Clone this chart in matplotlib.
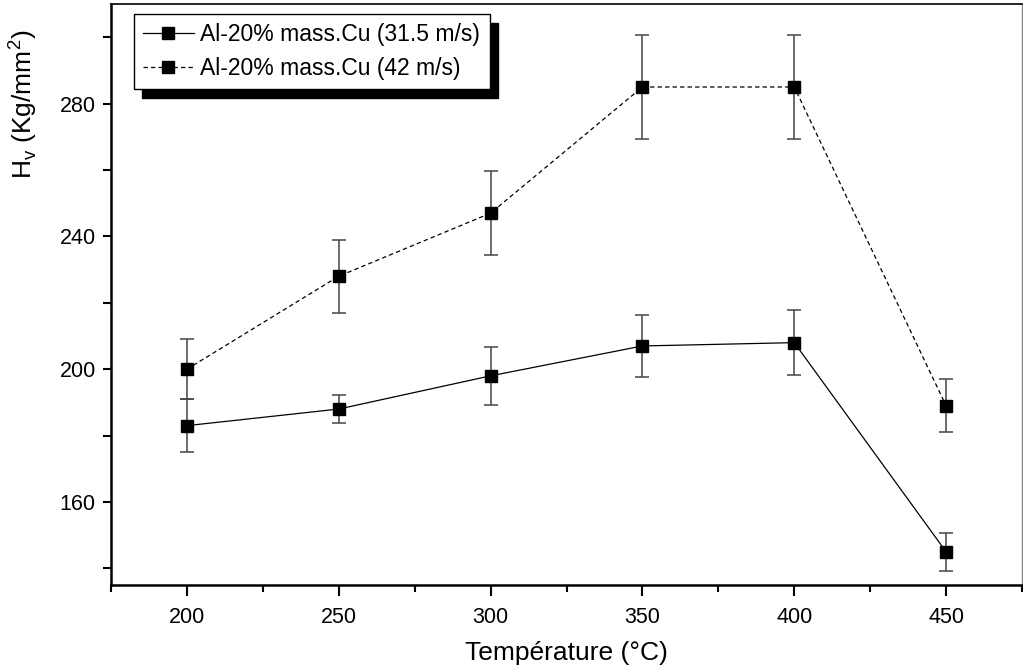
import matplotlib
matplotlib.use("Agg")
import matplotlib.pyplot as plt
from matplotlib.patches import Rectangle
from matplotlib.ticker import MultipleLocator

plt.rcParams['font.family'] = ['Liberation Sans', 'DejaVu Sans']
plt.rcParams['mathtext.fontset'] = 'custom'
plt.rcParams['mathtext.rm'] = 'Liberation Sans'

temperature = [200, 250, 300, 350, 400, 450]
hv_31 = [183, 188, 198, 207, 208, 145]
err_31 = [8, 4.3, 8.7, 9.3, 9.7, 5.7]
hv_42 = [200, 228, 247, 285, 285, 189]
err_42 = [9, 11, 12.6, 15.6, 15.6, 8]
label_31 = "Al-20% mass.Cu (31.5 m/s)"
label_42 = "Al-20% mass.Cu (42 m/s)"

fig = plt.figure(figsize=(10.23, 6.69), dpi=100)
ax = fig.add_axes([111/1023, 1-585/669, (1022-111)/1023, (585-4)/669])

ebkw = dict(fmt='none', ecolor='#444444', elinewidth=1.1, capsize=5, capthick=1.1)
ax.errorbar(temperature, hv_31, yerr=err_31, **ebkw)
ax.errorbar(temperature, hv_42, yerr=err_42, **ebkw)
ax.plot(temperature, hv_31, color='black', lw=0.9, marker='s', ms=8,
        mfc='black', mec='black', label=label_31)
ax.plot(temperature, hv_42, color='black', lw=0.9, ls=(0, (3.5, 2.5)), marker='s',
        ms=8, mfc='black', mec='black', label=label_42)

ax.set_xlim(175, 475)
ax.set_ylim(135, 310)
ax.xaxis.set_major_locator(MultipleLocator(50))
ax.xaxis.set_minor_locator(MultipleLocator(25))
ax.yaxis.set_major_locator(MultipleLocator(40))
ax.yaxis.set_minor_locator(MultipleLocator(20))
ax.tick_params(which='major', direction='out', length=8, width=1.5, labelsize=15.5,
               top=False, right=False, pad=8)
ax.tick_params(which='minor', direction='out', length=5, width=1.5, top=False, right=False)
ax.tick_params(axis='y', which='major', length=6, pad=5)
ax.tick_params(axis='y', which='minor', length=6)

for s in ['left', 'bottom']:
    ax.spines[s].set_linewidth(1.8)
ax.spines['top'].set_linewidth(1.2)
ax.spines['right'].set_linewidth(1.0)
ax.spines['right'].set_color('#888888')

fig.text(463/1023 + 207/2046, 1-653/669, "Température (°C)", fontsize=19,
         ha='center', va='center')
fig.text(23/1023, 1-104/669, r"H$_\mathregular{v}$ (Kg/mm$^\mathregular{2}$)",
         fontsize=19, rotation=90, ha='center', va='center')

leg = ax.legend(loc='upper left', bbox_to_anchor=(134/1023, 1-14/669),
                bbox_transform=fig.transFigure, borderaxespad=0, fontsize=16.5,
                frameon=True, fancybox=False, edgecolor='black', framealpha=1,
                handlelength=2.2, handletextpad=0.3, labelspacing=0.47,
                borderpad=0.4, markerscale=1.0)
leg.get_frame().set_linewidth(1.0)

fig.canvas.draw()
bb = leg.get_window_extent()
shadow = Rectangle((bb.x0 + 8, bb.y0 - 9), bb.width, bb.height, transform=None,
                   facecolor='black', edgecolor='black', zorder=4.9, clip_on=False)
ax.add_artist(shadow)
leg.set_zorder(5)

fig.savefig("out.png", dpi=100)
